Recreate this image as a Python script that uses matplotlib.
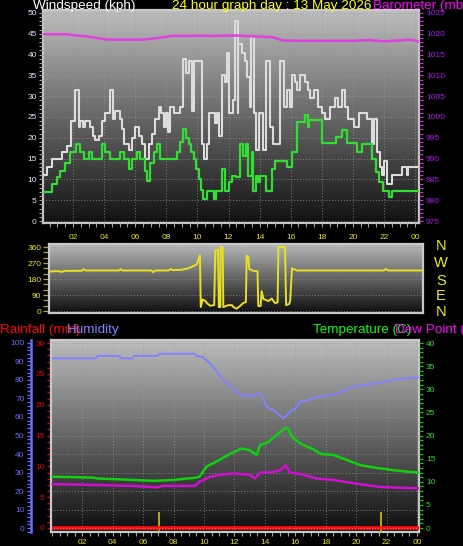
import numpy as np
import matplotlib
matplotlib.use('Agg')
import matplotlib.pyplot as plt
from matplotlib.ticker import MultipleLocator

plt.rcParams['font.family'] = ['Liberation Sans', 'DejaVu Sans']

# ---------------- data ----------------
gust_t = [0.10, 0.33, 0.65, 1.29, 1.60, 1.87, 2.15, 2.36, 2.47, 2.64, 2.79, 3.11, 3.28, 3.43, 3.65,
          3.86, 4.03, 4.35, 4.57, 4.72, 5.00, 5.15, 5.25, 5.57, 5.79, 6.00, 6.22, 6.43, 6.64, 6.86,
          7.07, 7.29, 7.50, 7.65, 7.86, 7.99, 8.14, 8.25, 8.47, 8.89, 9.07, 9.28, 9.49, 9.64, 9.75,
          10.29, 10.44, 10.61, 10.72, 11.14, 11.25, 11.42, 11.57, 11.79, 11.89, 12.06, 12.28,
          12.43, 12.58, 12.64, 12.86, 13.07, 13.18, 13.35, 13.44, 13.61, 13.78, 13.93, 14.25, 14.42,
          14.68, 14.85, 15.32, 15.54, 15.75, 15.96, 16.07, 16.29, 16.43, 16.60, 16.93, 17.08, 17.25,
          17.50, 17.78, 17.99, 18.21, 18.54, 18.86, 19.07, 19.29, 19.50, 19.71, 20.04, 20.36, 20.89,
          21.21, 21.36, 21.53, 21.75, 21.85, 22.00, 22.17, 22.50, 23.14, 23.46, 23.57, 24.20]
gust_v = [11, 13, 15, 16.5, 18, 24, 31.5, 22.5, 24, 22.5, 24, 22.5, 20.5, 19.5, 20.5,
          24, 26, 31.5, 24.5, 26.5, 24.5, 22, 18.5, 17, 20, 22.5, 20.5, 18.5, 15, 18.5,
          21, 24.5, 27.5, 26, 22.5, 26, 21.5, 27.5, 26, 27.5, 39, 35.5, 38.5, 26.5, 38.5,
          18.5, 15, 18.5, 26, 23.5, 26, 20.5, 35, 33.5, 40.5, 26, 29,
          48, 26, 42.5, 40.5, 38.5, 34.5, 27.5, 44.5, 26, 17, 26, 17, 38.5,
          22.5, 18.5, 38.5, 27.5, 31.5, 27.5, 35, 33.5, 31.5, 35, 33.5, 31.5, 29.5,
          31.5, 27.5, 26, 24.5, 27.5, 29.5, 27.5, 31.5, 27.5, 24.5, 22.5, 26, 24.5,
          18.5, 24.5, 16.5, 13, 11, 14.5, 9, 11, 13, 11, 13, 13]

avg_t = [0.10, 0.65, 0.97, 1.18, 1.50, 1.82, 2.21, 2.45, 2.68, 3.00, 3.22, 3.86, 4.07, 4.39, 5.04,
         5.25, 5.57, 5.79, 6.11, 6.32, 6.60, 6.75, 6.97, 7.20, 7.40, 7.60, 8.68, 8.90, 9.10, 9.25,
         9.43, 9.60, 9.75, 9.90, 10.07, 10.25, 10.39, 10.60, 11.04, 11.20, 11.57, 11.79, 12.00,
         12.20, 12.50, 12.75, 12.95, 13.10, 13.25, 13.50, 13.60, 13.75, 13.90, 14.05, 14.40, 14.78,
         15.00, 15.75, 16.07, 16.39, 16.90, 17.10, 17.20, 18.00, 18.90, 19.30, 19.60, 20.25, 20.60,
         21.20, 21.50, 21.70, 21.96, 22.30, 22.50, 24.20]
avg_v = [7, 9, 10.5, 12, 14, 16.5, 18.5, 16.5, 15, 16.5, 15, 18.5, 16.5, 15, 16.5,
         15, 12.5, 15, 16.5, 15, 12, 9.5, 14, 16.5, 18.5, 15, 16.5, 19, 22, 20,
         18.5, 16.5, 15, 12.5, 10, 7.5, 5.3, 7.3, 5.3, 7.3, 12.5, 7.3, 9.4,
         10.9, 10.5, 18.4, 15.7, 18.4, 10.9, 16.5, 7.3, 10.9, 9.4, 10.9, 7.3, 12.5,
         14.5, 12.9, 16.5, 23.9, 25.5, 22.7, 24.3, 18.7, 20.3, 21.9, 18.7, 16.7, 18.4,
         14.9, 11.7, 9.4, 7.3, 5.7, 7.3, 7.3]

baro_t = [0.10, 1.5, 2.2, 3.0, 4.2, 6.5, 7.5, 8.4, 10.0, 11.0, 12.5, 13.5, 14.8, 15.5, 17.0,
          20.0, 21.0, 22.0, 23.0, 23.7, 24.2]
baro_v = [1019.9, 1019.9, 1019.6, 1019.3, 1018.6, 1018.6, 1019.0, 1019.5, 1019.5, 1019.5, 1019.6,
          1019.4, 1019.2, 1018.4, 1018.3, 1018.3, 1018.5, 1018.2, 1018.4, 1018.6, 1018.2]

dir_t = [0.10, 0.6, 0.9, 1.1, 2.2, 2.3, 2.45, 4.6, 4.7, 4.8, 6.7, 6.8, 6.95, 7.8, 7.9, 8.1, 8.6,
         9.0, 9.3, 9.62, 9.83, 9.88, 10.0, 10.2, 10.27, 10.48, 10.75, 10.82, 11.0, 11.05, 11.15,
         11.17, 11.3, 11.34, 11.66, 11.9, 11.99, 12.2, 12.42, 12.63, 12.8, 12.85, 12.95, 13.02,
         13.28, 13.55, 13.6, 13.75, 13.82, 13.93, 14.25, 14.47, 14.68, 14.85, 14.9, 15.33, 15.4,
         15.6, 15.66, 15.78, 16.09, 21.7, 21.85, 22.0, 24.2]
dir_v = [222, 225, 220, 226, 226, 236, 228, 228, 236, 228, 228, 218, 228, 228, 236, 230, 232,
         238, 248, 262, 315, 22, 65, 55, 45, 30, 33, 343, 343, 22, 22,
         360, 360, 22, 33, 33, 22, 13, 28, 45, 50, 311, 305, 236,
         225, 225, 28, 28, 112, 68, 56, 70, 45, 48, 360, 360, 33,
         40, 56, 240, 228, 228, 236, 228, 228]

hum_t = [0.05, 2.9, 3.0, 4.45, 4.5, 5.3, 5.4, 6.95, 7.05, 9.4, 9.5, 9.9, 10.4, 10.83, 11.26, 11.7,
         11.93, 12.58, 12.8, 13.13, 13.46, 13.79, 14.1, 14.67, 15.2, 15.43, 15.76, 15.98, 16.31,
         16.75, 17.4, 18.3, 18.7, 19.8, 21.35, 22.45, 23.55, 24.13]
hum_v = [91.7, 91.7, 93, 93, 91.7, 91.7, 93, 93, 94.2, 94.2, 93, 92.5, 89, 84.6, 80, 77,
         74.6, 71.4, 72.2, 70.8, 72.6, 72.2, 65.6, 63.1, 59.3, 61, 63.8, 64.2, 68.3,
         68.8, 70.8, 71.8, 72.5, 76.4, 78.2, 80, 81.3, 81.3]

temp_t = [0.05, 2.7, 3.0, 5.35, 6.67, 7.98, 9.5, 9.7, 10.17, 10.83, 11.7, 12.47, 13.02, 13.46, 13.68,
          14.23, 14.9, 15.33, 15.55, 15.76, 16.31, 17.19, 17.7, 18.5, 19.4, 20.25, 21.35, 22.45,
          23.3, 24.13]
temp_v = [11.1, 10.9, 10.7, 10.4, 10.2, 10.4, 10.9, 11.1, 13.3, 14.4, 16.0, 17.2, 16.8, 15.8, 17.9,
          18.6, 20.5, 21.6, 21.4, 19.8, 18.3, 17.0, 16.0, 15.8, 14.7, 13.6, 13.0, 12.5, 12.2, 12.0]

dew_t = [0.05, 2.9, 5.35, 6.9, 7.3, 9.4, 9.7, 10.4, 11.05, 11.93, 13.02, 13.35, 13.68, 14.34, 15.0,
         15.37, 15.65, 16.31, 17.4, 18.5, 19.8, 21.5, 22.9, 24.13]
dew_v = [9.5, 9.3, 9.1, 8.8, 9.1, 9.1, 10.0, 11.1, 11.5, 11.8, 11.5, 10.7, 12.0, 12.0, 12.5,
         13.6, 12.0, 11.7, 10.7, 10.4, 9.7, 8.9, 8.7, 8.6]

rain_t = [0.0, 24.13]
rain_v = [0.0, 0.0]
mark_t = [7.04, 21.64]
mark_v = [2.6, 2.6]

hour_ticks = [2, 4, 6, 8, 10, 12, 14, 16, 18, 20, 22, 24]
hour_labels = ['02', '04', '06', '08', '10', '12', '14', '16', '18', '20', '22', '00']
compass = ['N', 'W', 'S', 'E', 'N']

# ---------------- figure ----------------
W, H = 464, 546
fig = plt.figure(figsize=(W / 100, H / 100), dpi=100, facecolor='black')


def px_axes(l, t, r, b):
    return fig.add_axes([l / W, 1 - b / H, (r - l) / W, (b - t) / H])


def shade(ax, top=0.74, bottom=0.07):
    g = np.linspace(top, bottom, 256).reshape(-1, 1)
    ax.imshow(g, cmap='gray', vmin=0, vmax=1, extent=[0, 1, 0, 1], transform=ax.transAxes,
              aspect='auto', zorder=0, interpolation='bilinear')


def frame(ax):
    for s in ax.spines.values():
        s.set_color('#c8c8c8')
        s.set_linewidth(1.6)


GRID = dict(color='#9a9a9a', linestyle=(0, (1, 2)), linewidth=0.7, alpha=0.7)
FS = 6.0

# ---- wind panel ----
ax1 = px_axes(43, 10, 419, 223)
ax1.set_facecolor('black')
shade(ax1)
frame(ax1)
ax1.step(gust_t, gust_v, where='post', color='#dcdcdc', lw=1.5, zorder=3)
ax1.step(avg_t, avg_v, where='post', color='#33dd33', lw=1.6, zorder=4)
ax1.set_xlim(0.07, 24.25)
ax1.set_ylim(-0.48, 50.72)
ax1.yaxis.set_major_locator(MultipleLocator(5))
ax1.yaxis.set_minor_locator(MultipleLocator(1))
ax1.set_xticks(hour_ticks)
ax1.set_xticklabels(hour_labels)
ax1.xaxis.set_minor_locator(MultipleLocator(0.5))
ax1.tick_params(axis='y', which='both', colors='#a0a0a0', labelcolor='#dde6ff',
                labelsize=FS, length=3, width=0.8, pad=1.5)
ax1.tick_params(axis='x', which='both', colors='#a0a0a0', labelcolor='#e6e600',
                labelsize=FS, length=3, width=0.8, pad=5)
ax1.grid(True, which='major', **GRID)
ax1.set_axisbelow(False)

ax1b = ax1.twinx()
ax1b.plot(baro_t, baro_v, color='#e040e0', lw=1.8)
ax1b.set_ylim(974.52, 1025.72)
ax1b.yaxis.set_major_locator(MultipleLocator(5))
ax1b.yaxis.set_minor_locator(MultipleLocator(1))
ax1b.tick_params(axis='y', which='both', colors='#d030d0', labelcolor='#b010f0',
                 labelsize=FS, length=3, width=0.8, pad=2)
for s in ax1b.spines.values():
    s.set_visible(False)

# ---- direction panel ----
ax2 = px_axes(49, 244, 423, 313)
ax2.set_facecolor('black')
shade(ax2, 0.72, 0.06)
frame(ax2)
ax2.plot(dir_t, dir_v, color='#e8e020', lw=1.4, zorder=3)
ax2.set_xlim(0.07, 24.25)
ax2.set_ylim(-11.25, 376.9)
ax2.set_yticks([0, 90, 180, 270, 360])
ax2.yaxis.set_minor_locator(MultipleLocator(30))
ax2.set_xticks([])
ax2.tick_params(axis='y', which='both', colors='#a8a830', labelcolor='#e8e800',
                labelsize=FS, length=4, width=0.9, pad=1.5)
ax2.grid(True, axis='y', which='major', **GRID)
for letter, yc in zip(compass, [246.5, 263, 281, 296.5, 311.5]):
    fig.text(441 / W, 1 - yc / H, letter, color='#f0f000', fontsize=10.5,
             ha='center', va='center')

# ---- bottom panel ----
ax3 = px_axes(51, 340, 419, 532)
ax3.set_facecolor('black')
shade(ax3, 0.74, 0.06)
frame(ax3)
ax3.set_xlim(-0.06, 24.13)
ax3.set_ylim(-0.65, 30.49)
ax3.yaxis.set_major_locator(MultipleLocator(5))
ax3.yaxis.set_minor_locator(MultipleLocator(1))
ax3.set_xticks(hour_ticks)
ax3.set_xticklabels(hour_labels)
ax3.xaxis.set_minor_locator(MultipleLocator(0.5))
ax3.tick_params(axis='y', which='both', colors='#d00000', labelcolor='#e00000',
                labelsize=FS, length=3, width=0.9, pad=1.5)
ax3.tick_params(axis='x', which='both', colors='#a0a0a0', labelcolor='#e6e600',
                labelsize=FS, length=3, width=0.8, pad=2)
ax3.grid(True, axis='x', which='major', **GRID)
ax3.vlines(mark_t, -0.65, mark_v, color='#c8b400', lw=1.3, zorder=3)
ax3.plot(rain_t, rain_v, color='#ff1010', lw=2.6, zorder=4, solid_capstyle='butt')

ax3h = ax3.twinx()
ax3h.set_ylim(-2.16, 101.62)
ax3h.plot(hum_t, hum_v, color='#8282ff', lw=1.4)
ax3h.yaxis.set_ticks_position('left')
ax3h.yaxis.set_label_position('left')
for k, s in ax3h.spines.items():
    s.set_visible(k == 'left')
ax3h.spines['left'].set_position(('axes', (30.7 - 51) / 368))
ax3h.spines['left'].set_color('#6a6aff')
ax3h.spines['left'].set_linewidth(1.8)
ax3h.yaxis.set_major_locator(MultipleLocator(10))
ax3h.yaxis.set_minor_locator(MultipleLocator(2))
ax3h.tick_params(axis='y', which='both', colors='#6a6aff', labelcolor='#6a6aff',
                 labelsize=FS, length=3, width=0.9, pad=1.5)
ax3h.grid(True, axis='y', which='major', **GRID)

ax3t = ax3.twinx()
ax3t.set_ylim(-0.86, 40.65)
ax3t.plot(temp_t, temp_v, color='#10d010', lw=1.8)
ax3t.plot(dew_t, dew_v, color='#d010d0', lw=1.8)
for s in ax3t.spines.values():
    s.set_visible(False)
ax3t.yaxis.set_major_locator(MultipleLocator(5))
ax3t.yaxis.set_minor_locator(MultipleLocator(1))
ax3t.tick_params(axis='y', which='both', colors='#10c010', labelcolor='#20e020',
                 labelsize=FS, length=3, width=0.9, pad=2)

# ---- titles ----
TFS = 9.7
fig.text(33 / W, 1 - 9.3 / H, 'Windspeed (kph)', color='white', fontsize=TFS, va='baseline')
fig.text(172 / W, 1 - 9.3 / H, '24 hour graph day : 13 May 2026', color='#ffff00',
         fontsize=TFS, va='baseline')
fig.text(372.7 / W, 1 - 9.3 / H, 'Barometer (mb)', color='#ff00ff', fontsize=TFS, va='baseline')
fig.text(0.5 / W, 1 - 332.7 / H, 'Rainfall (mm)', color='#ff0000', fontsize=TFS, va='baseline')
fig.text(66.7 / W, 1 - 332.7 / H, 'Humidity', color='#8080ff', fontsize=TFS, va='baseline')
fig.text(313.3 / W, 1 - 332.7 / H, 'Temperature (C)', color='#00ff00', fontsize=TFS,
         va='baseline')
fig.text(395 / W, 1 - 332.7 / H, 'Dew Point (C)', color='#ff00ff', fontsize=TFS, va='baseline')

fig.savefig('out.png', dpi=100, facecolor='black')
